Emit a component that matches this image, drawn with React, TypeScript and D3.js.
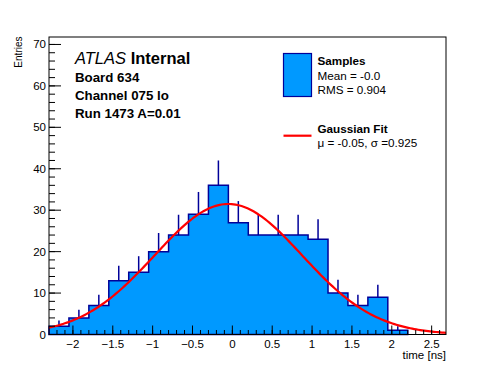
import React from "react";
import * as d3 from "d3";

// ---- data ----
const binStart = -2.3;
const binWidth = 0.25;
const counts = [2, 4, 7, 13, 15, 20, 24, 29, 36, 27, 24, 24, 24, 23, 10, 7, 9, 1];
const errors = [1.4, 2, 2.6, 3.6, 3.9, 4.5, 4.9, 5.4, 6, 5.2, 4.9, 4.9, 4.9, 4.8, 3.2, 2.6, 3, 1];
const fitMu = -0.05;
const fitSigma = 0.925;
const fitAmplitude = 31.5;
const xTickValues = [-2, -1.5, -1, -0.5, 0, 0.5, 1, 1.5, 2, 2.5];
const xTickLabels = ["\u22122", "\u22121.5", "\u22121", "\u22120.5", "0", "0.5", "1", "1.5", "2", "2.5"];
const yTickValues = [0, 10, 20, 30, 40, 50, 60, 70];
const infoLines = ["Board 634", "Channel 075 lo", "Run 1473 A=0.01"];

const W = 496;
const H = 372;
const left = 49;
const right = 446;
const top = 37;
const bottom = 334.5;
const FONT = "'Liberation Sans', Arial, Helvetica, sans-serif";
const FILL = "#0099ff";
const LINE = "#000099";

export default function App() {
  const x = d3.scaleLinear().domain([-2.3, 2.68]).range([left, right]);
  const y = d3.scaleLinear().domain([0, 71.8]).range([bottom, top]);

  const edges = counts.map((_, i) => binStart + i * binWidth);
  const lastEdge = binStart + counts.length * binWidth;

  let histPath = `M${x(edges[0])},${y(0)}`;
  counts.forEach((c, i) => {
    histPath += `L${x(edges[i])},${y(c)}L${x(edges[i] + binWidth)},${y(c)}`;
  });
  histPath += `L${x(lastEdge)},${y(0)}Z`;

  const [d0, d1] = x.domain();
  const fitPts: [number, number][] = d3.range(0, 201).map((i) => {
    const t = d0 + ((d1 - d0) * i) / 200;
    return [t, fitAmplitude * Math.exp(-((t - fitMu) ** 2) / (2 * fitSigma * fitSigma))];
  });
  const fitLine = d3
    .line<[number, number]>()
    .x((d) => x(d[0]))
    .y((d) => y(d[1]))(fitPts);

  const xMinor = d3.range(-22, 27).map((v) => v / 10).filter((v) => v >= d0 && v <= d1);
  const yMinor = d3.range(0, 72, 2);

  return (
    <svg
      width={W}
      height={H}
      style={{ position: "absolute", left: 0, top: 0, background: "#fff" }}
      fontFamily={FONT}
    >
      <rect x={0} y={0} width={W} height={H} fill="#fff" />
      {/* histogram */}
      <path d={histPath} fill={FILL} stroke={LINE} strokeWidth={1.5} />
      {/* error bars (upper halves, lower hidden by fill) */}
      {counts.map((c, i) => (
        <line
          key={"e" + i}
          x1={x(edges[i] + binWidth / 2)}
          x2={x(edges[i] + binWidth / 2)}
          y1={y(c)}
          y2={y(c + errors[i])}
          stroke={LINE}
          strokeWidth={1.5}
        />
      ))}
      {/* fit */}
      <path d={fitLine || ""} fill="none" stroke="#ff0000" strokeWidth={2.2} />
      {/* frame */}
      <rect x={left} y={top} width={right - left} height={bottom - top} fill="none" stroke="#000" strokeWidth={1} />
      {/* x ticks */}
      {xMinor.map((v) => (
        <line key={"xm" + v} x1={x(v)} x2={x(v)} y1={bottom} y2={bottom - 4.5} stroke="#000" strokeWidth={1} />
      ))}
      {xTickValues.map((v, i) => (
        <g key={"xt" + v}>
          <line x1={x(v)} x2={x(v)} y1={bottom} y2={bottom - 9} stroke="#000" strokeWidth={1} />
          <text x={x(v)} y={347.5} fontSize={11.5} textAnchor="middle" fill="#000">
            {xTickLabels[i]}
          </text>
        </g>
      ))}
      {/* y ticks */}
      {yMinor.map((v) => (
        <line key={"ym" + v} x1={left} x2={left + 6} y1={y(v)} y2={y(v)} stroke="#000" strokeWidth={1} />
      ))}
      {yTickValues.map((v) => (
        <g key={"yt" + v}>
          <line x1={left} x2={left + 12} y1={y(v)} y2={y(v)} stroke="#000" strokeWidth={1} />
          <text x={46} y={y(v) + 4} fontSize={11.5} textAnchor="end" fill="#000">
            {v}
          </text>
        </g>
      ))}
      {/* axis titles */}
      <text x={446} y={358.5} fontSize={11.5} textAnchor="end" fill="#000">
        time [ns]
      </text>
      <text transform="translate(22,36.5) rotate(-90)" fontSize={10} textAnchor="end" fill="#000">
        Entries
      </text>
      {/* ATLAS labels */}
      <text x={75} y={63.5} fontSize={16.5} fill="#000">
        <tspan fontStyle="italic">ATLAS</tspan>
        <tspan fontWeight="bold"> Internal</tspan>
      </text>
      {infoLines.map((s, i) => (
        <text key={s} x={75} y={81.5 + i * 18} fontSize={13.3} fontWeight="bold" fill="#000">
          {s}
        </text>
      ))}
      {/* legend */}
      <rect x={283.5} y={53.5} width={28} height={43} fill={FILL} stroke={LINE} strokeWidth={1.2} />
      <text x={317.5} y={65} fontSize={11.7} fontWeight="bold" fill="#000">
        Samples
      </text>
      <text x={317.5} y={79.5} fontSize={11.7} fill="#000">
        Mean = -0.0
      </text>
      <text x={317.5} y={93.5} fontSize={11.7} fill="#000">
        RMS = 0.904
      </text>
      <line x1={283.5} x2={311.5} y1={135.7} y2={135.7} stroke="#ff0000" strokeWidth={2.2} />
      <text x={317.5} y={132.7} fontSize={11.7} fontWeight="bold" fill="#000">
        Gaussian Fit
      </text>
      <text x={317.5} y={146.5} fontSize={11.7} fill="#000">
        {"\u03bc = -0.05, \u03c3 =0.925"}
      </text>
    </svg>
  );
}
